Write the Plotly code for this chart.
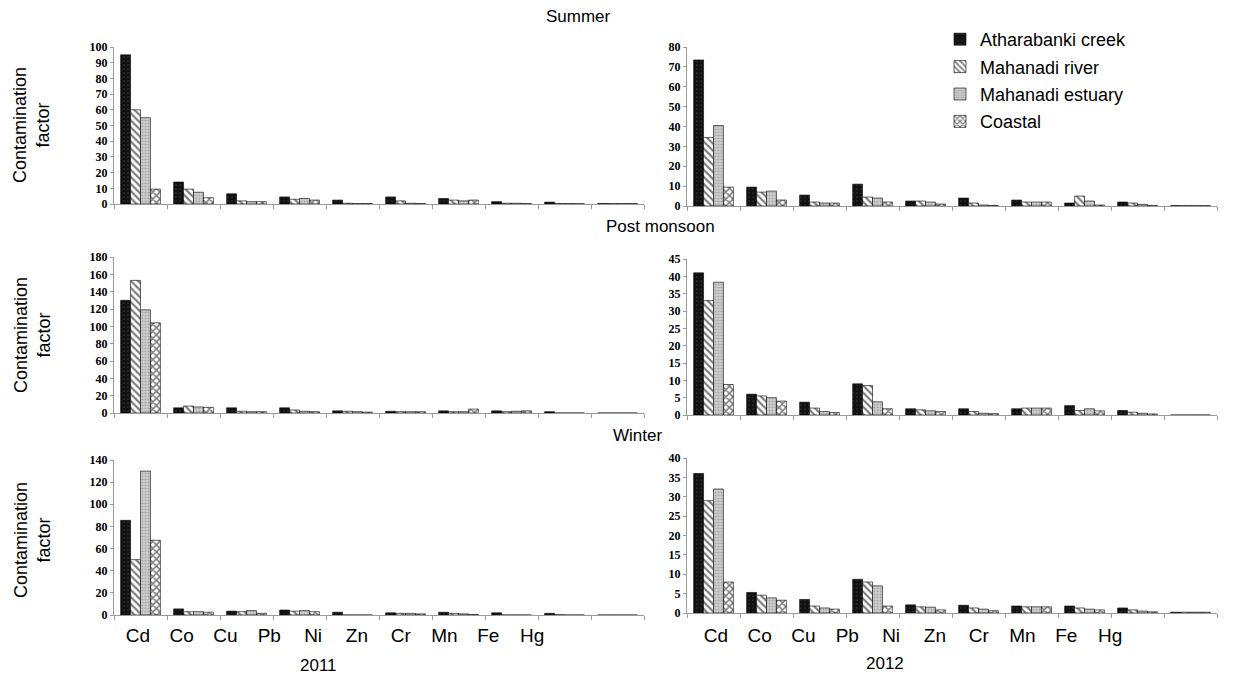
import plotly.graph_objects as go

metals = ["Cd", "Co", "Cu", "Pb", "Ni", "Zn", "Cr", "Mn", "Fe", "Hg"]
series_names = ["Atharabanki creek", "Mahanadi river", "Mahanadi estuary", "Coastal"]

# Summer 2011
summer_2011_creek   = [95, 14, 6.5, 4.5, 2.5, 4.5, 3.5, 1.5, 1.2, 0.3]
summer_2011_river   = [60, 9.5, 2, 3, 0.5, 2, 2.5, 0.5, 0.3, 0.3]
summer_2011_estuary = [55, 7.5, 1.5, 3.5, 0.3, 0.5, 2, 0.5, 0.3, 0.3]
summer_2011_coastal = [9.5, 4, 1.5, 2.5, 0.3, 0.3, 2.5, 0.3, 0.2, 0.3]
# Summer 2012
summer_2012_creek   = [73.5, 9.5, 5.5, 11, 2.5, 4, 3, 1.5, 2, 0.2]
summer_2012_river   = [34.5, 7, 2, 4.5, 2.5, 1.5, 2, 5, 1.5, 0.2]
summer_2012_estuary = [40.5, 7.5, 1.5, 4, 2, 0.5, 2, 2.5, 0.8, 0.2]
summer_2012_coastal = [9.5, 3, 1.5, 2, 1, 0.3, 2, 0.5, 0.3, 0.2]
# Post monsoon 2011
post_2011_creek   = [130, 6, 6, 6, 2.5, 2, 2.5, 2.5, 1.5, 0]
post_2011_river   = [153, 8, 2, 3.5, 2, 1.5, 1.5, 1.5, 0, 0]
post_2011_estuary = [119, 7, 1.5, 2, 1.5, 1.5, 1.5, 2, 0, 0]
post_2011_coastal = [104, 6.5, 1.5, 1.5, 1, 1.5, 4.5, 2.5, 0, 0]
# Post monsoon 2012
post_2012_creek   = [41, 6, 3.7, 9, 1.8, 1.8, 1.8, 2.7, 1.3, 0]
post_2012_river   = [33, 5.5, 2, 8.5, 1.5, 1, 2, 1.3, 0.8, 0]
post_2012_estuary = [38.3, 5, 1, 3.8, 1.2, 0.5, 2, 1.8, 0.5, 0]
post_2012_coastal = [8.8, 4, 0.7, 1.8, 1, 0.4, 2, 1.2, 0.3, 0]
# Winter 2011
winter_2011_creek   = [85.5, 5.5, 3.5, 4.5, 2.5, 2, 2.5, 2, 1.5, 0]
winter_2011_river   = [50, 3, 3, 3.5, 0, 1.5, 1.5, 0, 0.3, 0]
winter_2011_estuary = [130, 3, 4, 4, 0, 1.5, 1, 0, 0, 0]
winter_2011_coastal = [67.5, 2.5, 1.5, 3, 0, 1, 0.5, 0, 0, 0]
# Winter 2012
winter_2012_creek   = [36, 5.3, 3.5, 8.7, 2.1, 2, 1.8, 1.8, 1.3, 0.2]
winter_2012_river   = [29, 4.6, 1.8, 8, 1.6, 1.3, 1.6, 1.3, 0.8, 0.2]
winter_2012_estuary = [32, 3.9, 1.3, 7, 1.5, 1, 1.6, 1, 0.5, 0.2]
winter_2012_coastal = [8, 3.3, 1, 1.8, 0.8, 0.6, 1.6, 0.8, 0.3, 0.2]

panels = [
    # (values, axis suffix, y max, dtick)
    ([summer_2011_creek, summer_2011_river, summer_2011_estuary, summer_2011_coastal], "", 100, 10),
    ([summer_2012_creek, summer_2012_river, summer_2012_estuary, summer_2012_coastal], "2", 80, 10),
    ([post_2011_creek, post_2011_river, post_2011_estuary, post_2011_coastal], "3", 180, 20),
    ([post_2012_creek, post_2012_river, post_2012_estuary, post_2012_coastal], "4", 45, 5),
    ([winter_2011_creek, winter_2011_river, winter_2011_estuary, winter_2011_coastal], "5", 140, 20),
    ([winter_2012_creek, winter_2012_river, winter_2012_estuary, winter_2012_coastal], "6", 40, 5),
]

W, H = 1254, 682
OFF = 8  # page body margin offset
def fx(px): return (px - OFF) / W
def fy(py): return 1 - (py - OFF) / H

x_domains = [[fx(114), fx(644)], [fx(687), fx(1217)]]
y_domains = [
    [fy(204), fy(47)], [fy(206), fy(47)],
    [fy(413), fy(257)], [fy(415), fy(259)],
    [fy(615), fy(460)], [fy(613), fy(458)],
]

styles = [
    dict(color="#111111", pattern=dict(shape=".", fgcolor="#555555", size=4, solidity=0.15)),
    dict(color="white", pattern=dict(shape="\\", fgcolor="black", size=5, solidity=0.45)),
    dict(color="#cfcfcf", pattern=dict(shape=".", fgcolor="#777777", size=3, solidity=0.35)),
    dict(color="white", pattern=dict(shape="x", fgcolor="black", size=5, solidity=0.55)),
]

fig = go.Figure()
for pi, (vals, suf, ymax, dt) in enumerate(panels):
    for si in range(4):
        fig.add_trace(go.Bar(
            x=metals, y=vals[si], name=series_names[si],
            xaxis="x" + suf, yaxis="y" + suf,
            marker=dict(color=styles[si]["color"], pattern=styles[si]["pattern"],
                        line=dict(color="black", width=0.6)),
            showlegend=(pi == 0), legendgroup=series_names[si],
        ))

# invisible traces carrying the shared bottom category labels
for xa, ya in [("x7", "y7"), ("x8", "y8")]:
    fig.add_trace(go.Scatter(x=metals, y=[0] * len(metals), xaxis=xa, yaxis=ya,
                             mode="markers", marker=dict(opacity=0), showlegend=False,
                             hoverinfo="skip"))

layout = dict(
    width=W, height=H, margin=dict(l=0, r=0, t=0, b=0, autoexpand=False),
    paper_bgcolor="white", plot_bgcolor="white",
    barmode="group", bargap=0.25, bargroupgap=0,
    font=dict(family="Arial, Liberation Sans, sans-serif", color="black"),
    legend=dict(x=fx(940), y=fy(21), xanchor="left", yanchor="top",
                font=dict(size=18, family="Arial, Liberation Sans, sans-serif"),
                bgcolor="rgba(0,0,0,0)", tracegroupgap=1),
    showlegend=True,
)

for pi, (vals, suf, ymax, dt) in enumerate(panels):
    col = pi % 2
    layout["xaxis" + suf] = dict(domain=x_domains[col], anchor="y" + suf, type="category",
                      categoryarray=metals, range=[-0.5, 9.5],
                      showline=True, linecolor="#9a9a9a", linewidth=1,
                      ticks="outside", tickson="boundaries", ticklen=4, tickcolor="#9a9a9a",
                      showticklabels=False, showgrid=False, zeroline=False)
    layout["yaxis" + suf] = dict(domain=y_domains[pi], anchor="x" + suf, range=[0, ymax], dtick=dt,
                      showline=True, linecolor="#9a9a9a", linewidth=1,
                      ticks="outside", ticklen=3, tickcolor="#9a9a9a",
                      showgrid=False, zeroline=False,
                      tickfont=dict(family="Liberation Serif, Times New Roman, serif",
                                    size=12, weight="bold"))

label_axis = dict(type="category", categoryarray=metals, range=[-0.5, 9.5],
                  showline=False, ticks="", showgrid=False, zeroline=False,
                  tickfont=dict(size=19, family="Arial, Liberation Sans, sans-serif"))
layout["xaxis7"] = dict(label_axis, domain=[fx(116), fx(554)], anchor="y7")
layout["xaxis8"] = dict(label_axis, domain=[fx(694), fx(1132)], anchor="y8")
hidden_y = dict(visible=False, range=[0, 1], showgrid=False, zeroline=False)
layout["yaxis7"] = dict(hidden_y, domain=[fy(622), fy(620)], anchor="x7")
layout["yaxis8"] = dict(hidden_y, domain=[fy(622), fy(620)], anchor="x8")

fig.update_layout(**layout)

annos = [
    ("Summer", 578, 17, 17),
    ("Post monsoon", 660, 227, 17),
    ("Winter", 637, 435, 17),
    ("2011", 318, 665, 17),
    ("2012", 885, 663, 17),
]
for text, x, y, size in annos:
    fig.add_annotation(text=text, x=fx(x), y=fy(y), xref="paper", yref="paper",
                       showarrow=False, xanchor="center", yanchor="middle",
                       font=dict(size=size, family="Arial, Liberation Sans, sans-serif"))

for yc in [125, 335, 540]:
    fig.add_annotation(text="Contamination<br>factor", x=fx(32), y=fy(yc),
                       xref="paper", yref="paper", showarrow=False, textangle=-90,
                       xanchor="center", yanchor="middle",
                       font=dict(size=18, family="Arial, Liberation Sans, sans-serif"))

fig.write_html("out.html")
